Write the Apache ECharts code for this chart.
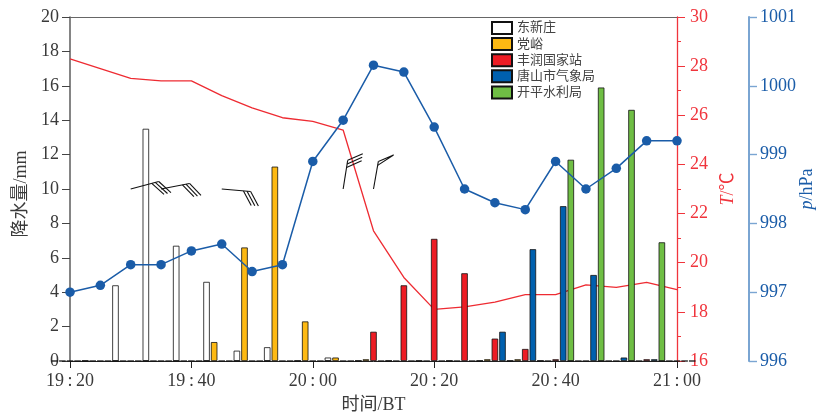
<!DOCTYPE html>
<html><head><meta charset="utf-8">
<style>html,body{margin:0;padding:0;background:#fff}#c{width:816px;height:417px}</style>
<script src="https://cdn.jsdelivr.net/npm/echarts@6/dist/echarts.min.js"></script>
</head><body><div id="c"></div>
<script>
const times = ['19:20','19:25','19:30','19:35','19:40','19:45','19:50','19:55','20:00','20:05','20:10','20:15','20:20','20:25','20:30','20:35','20:40','20:45','20:50','20:55','21:00'];
const dongxinzhuang = [0,0,4.4,13.5,6.7,4.6,0.6,0.8,0,0.2,0,0,0,0,0,0,0,0,0,0,0];
const dangyu        = [0,0,0,0,0,1.1,6.6,11.3,2.3,0.2,0.1,0,0,0,0.1,0.1,0,0,0,0,0];
const fengrun       = [0,0,0,0,0,0,0,0,0,0,1.7,4.4,7.1,5.1,1.3,0.7,0.1,0,0,0.1,0];
const tangshan      = [0,0,0,0,0,0,0,0,0,0,0,0,0,0,1.7,6.5,9,5,0.2,0.1,0];
const kaiping       = [0,0,0,0,0,0,0,0,0,0,0,0,0,0,0,0,11.7,15.9,14.6,6.9,0];
const temperature   = [28.3,27.9,27.5,27.4,27.4,26.8,26.3,25.9,25.75,25.4,21.3,19.4,18.1,18.2,18.4,18.7,18.7,19.1,19.0,19.2,18.9];
const pressure      = [997,997.1,997.4,997.4,997.6,997.7,997.3,997.4,998.9,999.5,1000.3,1000.2,999.4,998.5,998.3,998.2,998.9,998.5,998.8,999.2,999.2];
const windTimes     = ['19:30','19:35','19:45','20:05','20:10'];
const windLevel     = [10,10,10,10,10];
const windBearing   = [75,79,95,9,10];
const windFeathers  = [3,3,3,3,0];
const windPennant   = [0,0,0,0,1];

const serif = '"Liberation Serif","Noto Sans CJK SC",serif';
const ink = '#3a3a3a', redAxis = '#f0343c', blueAxis = '#1a5ca8';
const tickText = s => s.replace(':', '\u2009:\u2009');

function renderBarb(params, api) {
  const base = api.coord([api.value(0), api.value(1)]);
  const b = api.value(2) * Math.PI / 180, n = api.value(3), flag = api.value(4);
  const L = flag ? 28 : 29, F = 16.5, step = 3.6, fb = b + 57 * Math.PI / 180;
  const dir = [Math.sin(b), -Math.cos(b)], fdir = [Math.sin(fb), -Math.cos(fb)];
  const top = [base[0] + dir[0] * L, base[1] + dir[1] * L];
  const style = {stroke: '#111', lineWidth: 1.1, fill: null};
  const kids = [{type: 'line', shape: {x1: base[0], y1: base[1], x2: top[0], y2: top[1]}, style}];
  for (let i = 0; i < n; i++) {
    const p = [top[0] - dir[0] * step * i, top[1] - dir[1] * step * i];
    kids.push({type: 'line', shape: {x1: p[0], y1: p[1], x2: p[0] + fdir[0] * F, y2: p[1] + fdir[1] * F}, style});
  }
  if (flag) {
    const tip = [top[0] + fdir[0] * F, top[1] + fdir[1] * F];
    kids.push({type: 'polyline', shape: {points: [top, tip, [top[0] - dir[0] * 4, top[1] - dir[1] * 4]]}, style});
  }
  return {type: 'group', children: kids};
}

const barSeries = (name, data, color) => ({
  name, type: 'bar', data, xAxisIndex: 0, yAxisIndex: 0, z: 3,
  barWidth: 6.5, barGap: '17%',
  itemStyle: {color, borderColor: '#111', borderWidth: 0.8},
  emphasis: {disabled: true}
});

const chart = echarts.init(document.getElementById('c'), null, {renderer: 'canvas'});
chart.setOption({
  animation: false,
  backgroundColor: '#fff',
  textStyle: {fontFamily: serif},
  grid: {left: 70, right: 139, top: 17, bottom: 56, containLabel: false, outerBoundsMode: 'none'},
  legend: {
    orient: 'vertical', left: 486, top: 16, itemWidth: 20, itemHeight: 12, itemGap: 2.1,
    icon: 'rect', selectedMode: false,
    textStyle: {fontFamily: serif, fontSize: 13, lineHeight: 12, color: '#444', padding: [0, 0, 0, 0]},
    data: ['东新庄','党峪','丰润国家站','唐山市气象局','开平水利局']
  },
  xAxis: [{
    type: 'category', data: times, boundaryGap: false, position: 'bottom',
    name: '时间/BT', nameLocation: 'middle', nameGap: 35,
    nameTextStyle: {fontFamily: serif, fontSize: 18, color: ink},
    axisLine: {lineStyle: {color: '#222', width: 1}},
    axisTick: {length: 7, interval: i => i % 4 === 0, lineStyle: {color: '#222', width: 1}},
    axisLabel: {interval: i => i % 4 === 0, formatter: tickText, fontFamily: serif, fontSize: 18, color: ink, margin: 11, showMinLabel: true, showMaxLabel: true},
    splitLine: {show: false}
  }, {
    type: 'category', data: times, boundaryGap: false, position: 'top',
    axisLine: {onZero: false, lineStyle: {color: '#666', width: 1.2}},
    axisTick: {show: false}, axisLabel: {show: false}, splitLine: {show: false}
  }],
  yAxis: [{
    type: 'value', min: 0, max: 20, interval: 2, position: 'left',
    name: '降水量/mm', nameLocation: 'middle', nameGap: 38, nameRotate: 90,
    nameTextStyle: {fontFamily: serif, fontSize: 18, color: ink, padding: [0, 10, 0, 0]},
    axisLine: {show: true, lineStyle: {color: '#666', width: 1.6}},
    axisTick: {show: true, length: 8, lineStyle: {color: '#444', width: 1}},
    axisLabel: {fontFamily: serif, fontSize: 18, color: ink, margin: 11},
    splitLine: {show: false}
  }, {
    type: 'value', min: 16, max: 30, interval: 2, position: 'right',
    name: '{i|T}/℃', nameLocation: 'middle', nameGap: 41, nameRotate: 90,
    nameTextStyle: {fontFamily: serif, fontSize: 18, color: redAxis, rich: {i: {fontFamily: serif, fontSize: 18, fontStyle: 'italic', color: redAxis}}},
    axisLine: {show: true, onZero: false, lineStyle: {color: redAxis, width: 1.3}},
    axisTick: {show: true, length: 8, lineStyle: {color: redAxis, width: 1}},
    minorTick: {show: true, splitNumber: 2, length: 4, lineStyle: {color: redAxis, width: 1}},
    axisLabel: {fontFamily: serif, fontSize: 18, color: redAxis, margin: 13},
    splitLine: {show: false}, minorSplitLine: {show: false}
  }, {
    type: 'value', min: 996, max: 1001, interval: 1, position: 'right', offset: 72,
    name: '{i|p}/hPa', nameLocation: 'middle', nameGap: 49, nameRotate: 90, nameMoveOverlap: false,
    nameTextStyle: {fontFamily: serif, fontSize: 18, color: blueAxis, rich: {i: {fontFamily: serif, fontSize: 18, fontStyle: 'italic', color: blueAxis}}},
    axisLine: {show: true, onZero: false, lineStyle: {color: '#7aa5d2', width: 2}},
    axisTick: {show: true, length: 8, lineStyle: {color: '#7aa5d2', width: 1.4}},
    axisLabel: {fontFamily: serif, fontSize: 18, color: blueAxis, margin: 11, formatter: v => String(v)},
    splitLine: {show: false}
  }],
  series: [
    {name: '气温', type: 'line', data: temperature, yAxisIndex: 1, z: 2, symbol: 'none', clip: false,
     lineStyle: {color: '#ee2b32', width: 1.3}},
    barSeries('东新庄', dongxinzhuang, '#ffffff'),
    barSeries('党峪', dangyu, '#fdb913'),
    barSeries('丰润国家站', fengrun, '#ed1c24'),
    barSeries('唐山市气象局', tangshan, '#0060ae'),
    barSeries('开平水利局', kaiping, '#6fbe44'),
    {name: '气压', type: 'line', data: pressure, yAxisIndex: 2, z: 5, symbol: 'circle', symbolSize: 9.5, clip: false,
     lineStyle: {color: '#1a5ca8', width: 1.5}, itemStyle: {color: '#1a5ca8'}},
    {name: '风', type: 'custom', yAxisIndex: 0, z: 6, clip: false, renderItem: renderBarb,
     encode: {x: 0, y: 1},
     data: windTimes.map((t, i) => [times.indexOf(t), windLevel[i], windBearing[i], windFeathers[i], windPennant[i]])}
  ]
});
</script></body></html>
